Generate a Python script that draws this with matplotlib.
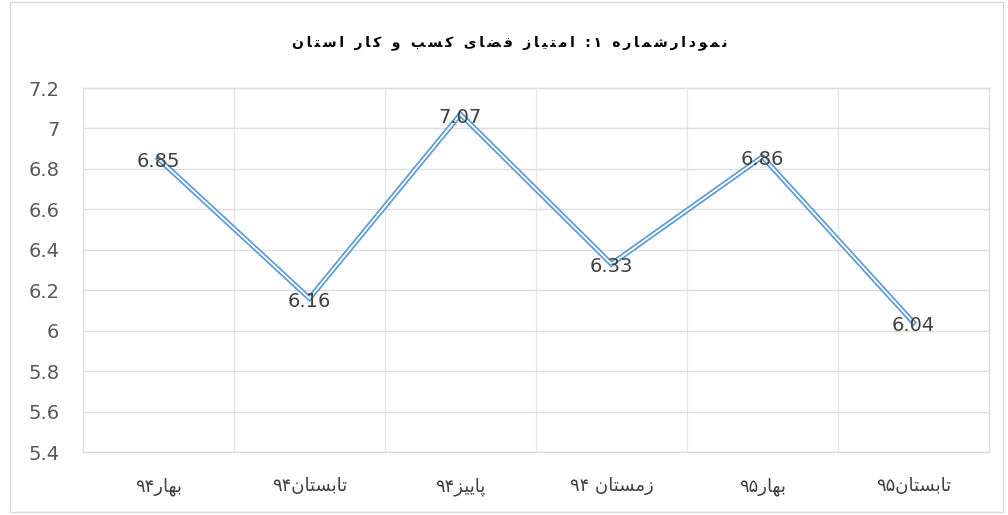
import re
import matplotlib
matplotlib.use('Agg')
import matplotlib.pyplot as plt
from matplotlib.patches import Rectangle

# داده‌ها
title = 'نمودارشماره ۱: امتیاز فضای کسب و کار استان'
seasons = ['بهار۹۴', 'تابستان۹۴', 'پاییز۹۴', 'زمستان ۹۴', 'بهار۹۵', 'تابستان۹۵']
scores = [6.85, 6.16, 7.07, 6.33, 6.86, 6.04]
y_ticks = [5.4, 5.6, 5.8, 6, 6.2, 6.4, 6.6, 6.8, 7, 7.2]

# فرم‌های نمایشی: (جدا، پایانی، آغازی، میانی)؛ None یعنی فقط به راست می‌چسبد
FORMS = {
    'ا': (0xFE8D, 0xFE8E, None, None),
    'ب': (0xFE8F, 0xFE90, 0xFE91, 0xFE92),
    'پ': (0xFB56, 0xFB57, 0xFB58, 0xFB59),
    'ت': (0xFE95, 0xFE96, 0xFE97, 0xFE98),
    'د': (0xFEA9, 0xFEAA, None, None),
    'ر': (0xFEAD, 0xFEAE, None, None),
    'ز': (0xFEAF, 0xFEB0, None, None),
    'س': (0xFEB1, 0xFEB2, 0xFEB3, 0xFEB4),
    'ش': (0xFEB5, 0xFEB6, 0xFEB7, 0xFEB8),
    'ض': (0xFEBD, 0xFEBE, 0xFEBF, 0xFEC0),
    'ف': (0xFED1, 0xFED2, 0xFED3, 0xFED4),
    'ک': (0xFB8E, 0xFB8F, 0xFB90, 0xFB91),
    'م': (0xFEE1, 0xFEE2, 0xFEE3, 0xFEE4),
    'ن': (0xFEE5, 0xFEE6, 0xFEE7, 0xFEE8),
    'ه': (0xFEE9, 0xFEEA, 0xFEEB, 0xFEEC),
    'و': (0xFEED, 0xFEEE, None, None),
    'ی': (0xFBFC, 0xFBFD, 0xFBFE, 0xFBFF),
}


def fa(text, spacing=''):
    # شکل‌دهی حروف و ترتیب راست به چپ
    out = []
    for i, ch in enumerate(text):
        f = FORMS.get(ch)
        if f is None:
            out.append(ch)
            continue
        prev = FORMS.get(text[i - 1]) if i > 0 else None
        nxt = FORMS.get(text[i + 1]) if i + 1 < len(text) else None
        join_prev = prev is not None and prev[2] is not None
        join_next = nxt is not None and f[2] is not None
        if join_prev and join_next:
            code = f[3]
        elif join_prev:
            code = f[1]
        elif join_next:
            code = f[2]
        else:
            code = f[0]
        out.append(chr(code))
    vis = ''.join(out)[::-1]
    vis = re.sub(r'[۰-۹0-9]+', lambda m: m.group()[::-1], vis)
    return spacing.join(vis)


fig = plt.figure(figsize=(10.08, 5.15), dpi=100)
ax = fig.add_axes([0.0823, 0.1223, 0.8988, 0.7068])

x = list(range(len(scores)))
ax.plot(x, scores, color='#5B9BD5', lw=3.8, solid_joinstyle='miter', zorder=3)
ax.plot(x, scores, color='white', lw=1.3, solid_joinstyle='miter', zorder=4)

for xi, v in zip(x, scores):
    ax.annotate(f'{v:.2f}', (xi, v), xytext=(0, -2), textcoords='offset points',
                ha='center', va='center', fontsize=14, color='#404040', zorder=5)

ax.set_xlim(-0.5, len(scores) - 0.5)
ax.set_ylim(5.4, 7.2)
ax.set_yticks(y_ticks)
ax.set_yticklabels([f'{t:g}' for t in y_ticks])
ax.set_xticks(x)
ax.set_xticklabels([fa(s) for s in seasons], fontsize=13, color='#404040')
ax.set_xticks([i + 0.5 for i in x[:-1]], minor=True)

ax.tick_params(axis='y', labelsize=14, labelcolor='#595959', length=0, pad=17)
ax.tick_params(axis='x', which='both', length=0, pad=18)
ax.grid(axis='y', color='#DEDEDE', lw=1)
ax.grid(axis='x', which='minor', color='#E6E6E6', lw=1)
for sp in ax.spines.values():
    sp.set_color('#DEDEDE')
    sp.set_linewidth(1)

fig.text(0.506, 0.918, fa(title, '\u2009'), ha='center', va='center', fontsize=10,
         fontweight='bold', color='black')

fig.patches.append(Rectangle((0.01, 0.006), 0.985, 0.99, transform=fig.transFigure,
                             fill=False, edgecolor='#D9D9D9', lw=1))

fig.savefig('out.png', dpi=100)
